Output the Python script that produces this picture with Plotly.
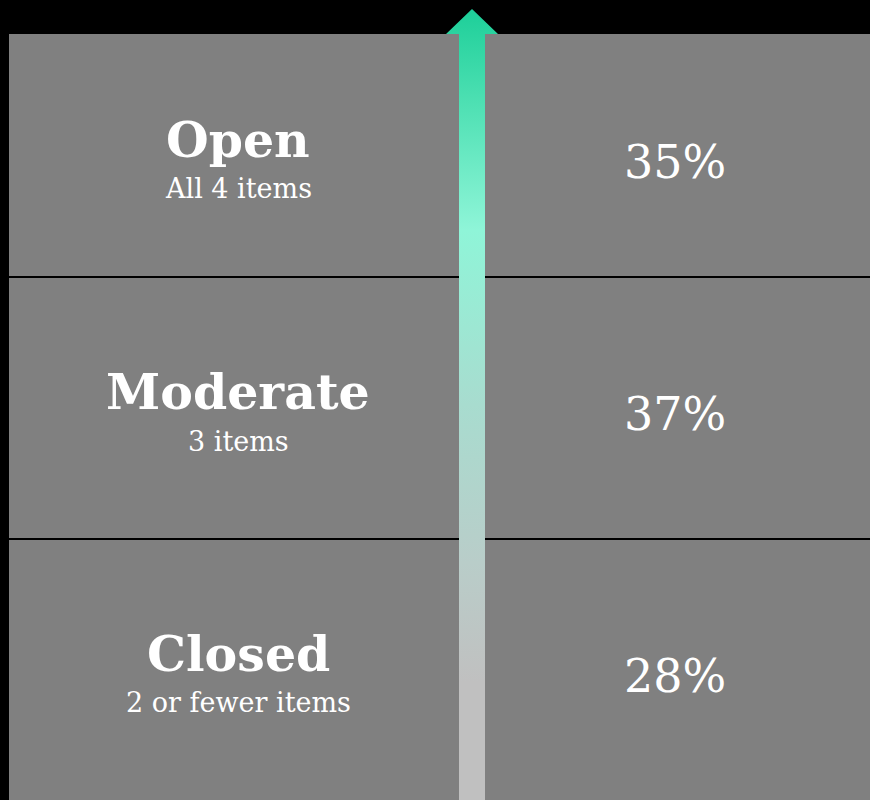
import plotly.graph_objects as go

# ---- data ----
categories = ["Closed", "Moderate", "Open"]
subtitles = ["2 or fewer items", "3 items", "All 4 items"]
shares = [28, 37, 35]

W, H = 870, 800
TOP_PX = 34          # panel top edge (px from top)
ROW_PX = 262         # px per row
LEFT_PX = 9

ymin = -0.5 + 1.0 / ROW_PX
ymax = ymin + (H - TOP_PX) / ROW_PX
yrange = [ymin, ymax]

FONT = "Georgia, 'DejaVu Serif', serif"

fig = go.Figure()

# panels as full-width horizontal bars (small gap draws the dark separators)
fig.add_trace(go.Bar(
    y=list(range(len(categories))),
    x=[1] * len(categories),
    orientation="h",
    width=1 - 2 / ROW_PX,
    marker=dict(color="#808080", line=dict(width=0)),
    hoverinfo="skip",
    showlegend=False,
    xaxis="x", yaxis="y",
))

# gradient arrow on an independent full-figure pixel axis pair
cx = 472
shaft_half = 13
head_half = 26
tip_y = 9
arrow_x = [cx - shaft_half, cx - shaft_half, cx - head_half, cx, cx + head_half,
           cx + shaft_half, cx + shaft_half, cx - shaft_half]
arrow_y = [H, TOP_PX, TOP_PX, tip_y, TOP_PX, TOP_PX, H, H]
fig.add_trace(go.Scatter(
    x=arrow_x, y=[H - v for v in arrow_y],
    mode="lines", fill="toself",
    line=dict(width=0, color="rgba(0,0,0,0)"),
    fillgradient=dict(
        type="vertical",
        colorscale=[
            [0.0, "#c0c0c0"],
            [0.15, "#c0c0c0"],
            [0.30, "#b9cdc9"],
            [0.50, "#a8dccf"],
            [0.72, "#8ff5d8"],
            [0.88, "#4ee0b3"],
            [1.0, "#1dcf99"],
        ],
    ),
    hoverinfo="skip",
    showlegend=False,
    xaxis="x2", yaxis="y2",
))

annotations = []
for i, (cat, sub, val) in enumerate(zip(categories, subtitles, shares)):
    lo = max(i - 0.5, yrange[0])
    hi = min(i + 0.5, yrange[1])
    yc = (lo + hi) / 2
    annotations.append(dict(
        x=0.266, y=yc, xref="x", yref="y", text=f"<b>{cat}</b>",
        showarrow=False, yshift=16, yanchor="middle",
        font=dict(family=FONT, size=49, color="white"),
    ))
    annotations.append(dict(
        x=0.266, y=yc, xref="x", yref="y", text=sub,
        showarrow=False, yshift=-33, yanchor="middle",
        font=dict(family=FONT, size=27, color="white"),
    ))
    annotations.append(dict(
        x=0.7735, y=yc, xref="x", yref="y", text=f"{val}%",
        showarrow=False, yshift=-6, yanchor="middle",
        font=dict(family=FONT, size=46, color="white"),
    ))

fig.update_layout(
    width=W, height=H,
    margin=dict(l=0, r=0, t=0, b=0),
    paper_bgcolor="black",
    plot_bgcolor="rgba(0,0,0,0)",
    bargap=0,
    hovermode=False,
    xaxis=dict(domain=[LEFT_PX / W, 1], range=[0, 1], visible=False, fixedrange=True),
    yaxis=dict(domain=[0, (H - TOP_PX) / H], range=yrange, visible=False, fixedrange=True),
    xaxis2=dict(domain=[0, 1], range=[0, W], anchor="y2", visible=False, fixedrange=True),
    yaxis2=dict(domain=[0, 1], range=[0, H], anchor="x2", visible=False, fixedrange=True),
    annotations=annotations,
    showlegend=False,
)

fig.write_html(
    "out.html",
    config={"displayModeBar": False, "staticPlot": True},
    post_script="document.body.style.margin='0';document.body.style.background='black';",
)
